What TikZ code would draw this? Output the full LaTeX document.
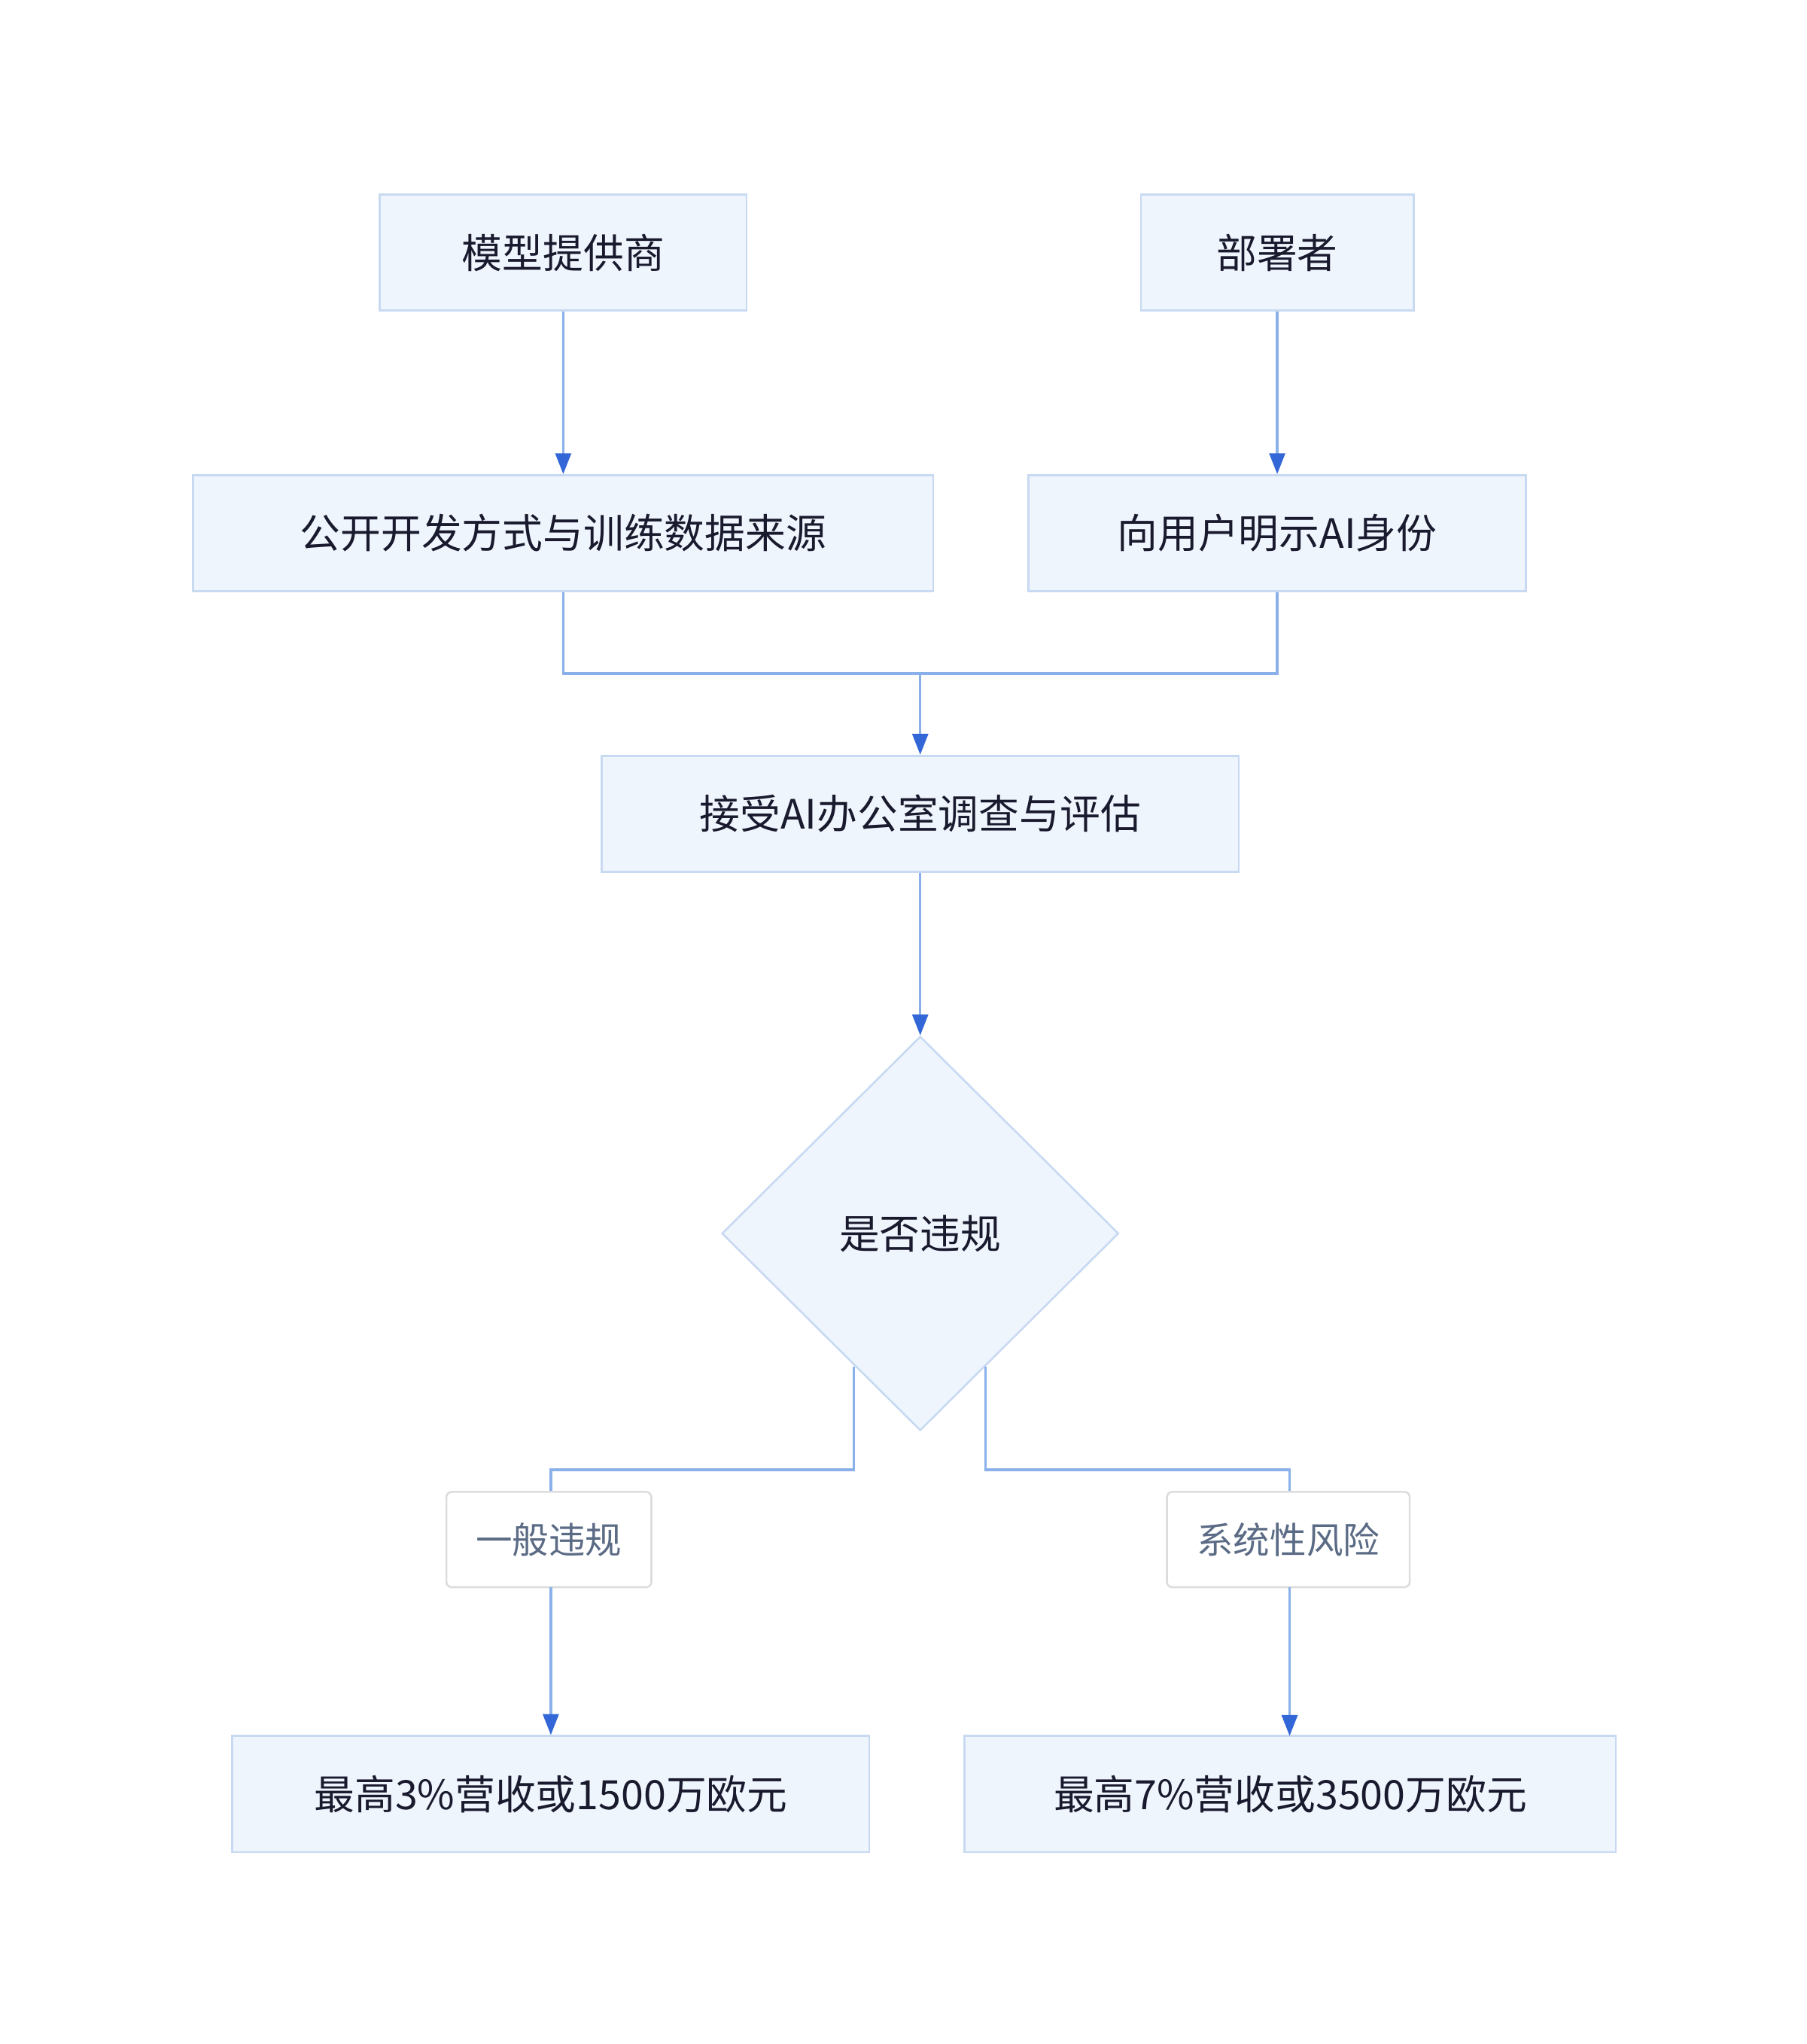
\documentclass[tikz,border=0pt]{standalone}
\usepackage{fontspec}
\setmainfont{Noto Sans CJK SC}
\usetikzlibrary{arrows.meta,shapes.geometric}
\definecolor{boxfill}{HTML}{EFF5FD}
\definecolor{boxline}{HTML}{C8D9F2}
\definecolor{edge}{HTML}{8AB0EA}
\definecolor{tip}{HTML}{3366D6}
\definecolor{txt}{HTML}{1A1A2E}
\definecolor{lbltxt}{HTML}{5B6B85}
\definecolor{lblline}{HTML}{DDDDDD}
\begin{document}
\begin{tikzpicture}[x=1pt,y=-1pt,
  box/.style={draw=boxline,line width=1.5pt,fill=boxfill,minimum height=89pt,text=txt,font=\fontsize{31}{37}\selectfont,inner sep=0pt},
  dia/.style={draw=boxline,line width=1.5pt,fill=boxfill,diamond,minimum width=304pt,minimum height=302pt,text=txt,font=\fontsize{31}{37}\selectfont,inner sep=0pt},
  lbl/.style={draw=lblline,line width=1.5pt,fill=white,rounded corners=4pt,minimum height=73pt,text=lbltxt,font=\fontsize{28}{34}\selectfont,inner sep=0pt},
  con/.style={draw=edge,line width=2pt},
  arr/.style={con,-{Triangle[length=16pt,width=12pt,color=tip]}}]
\useasboundingbox (0,0) rectangle (1384,1566);
\node[box,minimum width=281pt] (p) at (431.5,193.5) {模型提供商};
\node[box,minimum width=209pt] (d) at (978.5,193.5) {部署者};
\node[box,minimum width=567pt] (pa) at (431.5,408.5) {公开开发方式与训练数据来源};
\node[box,minimum width=381pt] (da) at (978.5,408.5) {向用户明示AI身份};
\node[box,minimum width=488pt] (inv) at (705,623.5) {接受AI办公室调查与评估};
\node[dia] (q) at (705,945) {是否违规};
\node[box,minimum width=488pt] (r1) at (422,1374.5) {最高3\%营收或1500万欧元};
\node[box,minimum width=499pt] (r2) at (988.5,1374.5) {最高7\%营收或3500万欧元};
\coordinate (m) at (705,516);
\coordinate (ql) at (654,1047);
\coordinate (qr) at (755,1047);
\draw[arr] (p) -- (pa);
\draw[arr] (d) -- (da);
\draw[con] (pa.south) |- (m);
\draw[con] (da.south) |- (m);
\draw[arr] (m) -- (inv.north);
\draw[arr] (inv) -- (q.north);
\draw[con] (ql) -- (654,1126) -| (422,1143);
\draw[con] (qr) -- (755,1126) -| (988,1143);
\node[lbl,minimum width=157pt] (l1) at (420.5,1179.5) {一般违规};
\node[lbl,minimum width=186pt] (l2) at (987,1179.5) {系统性风险};
\draw[arr] (422,1216) -- (r1.north);
\draw[arr] (988,1216) -- (988,1330);
\end{tikzpicture}
\end{document}
